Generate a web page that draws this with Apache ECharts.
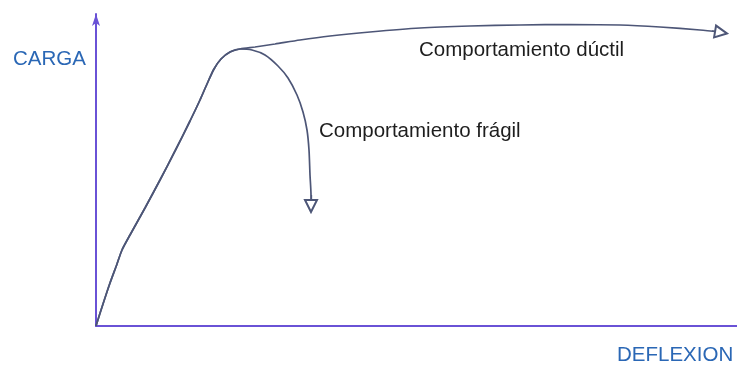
<!DOCTYPE html>
<html>
<head>
<meta charset="utf-8">
<script src="https://cdn.jsdelivr.net/npm/echarts@6/dist/echarts.min.js"></script>
<style>
  html, body { margin: 0; padding: 0; background: #fff; }
  #chart { width: 737px; height: 369px; }
</style>
</head>
<body>
<div id="chart"></div>
<script>
// Schematic load–deflection curves (arbitrary units)
const rise = [[0, 0], [7, 22], [14, 43], [21, 62], [26, 76], [34, 91], [49, 118], [64, 146],
  [79, 175], [94, 205], [104, 226], [111, 242], [118, 257], [125, 267], [134, 274], [144, 277]];
const ductileTail = [[159, 279], [179, 282], [204, 286], [234, 290], [274, 294], [324, 298],
  [374, 300], [424, 301], [474, 301.5], [524, 301], [564, 299], [604, 296], [624, 294]];
const fragileTail = [[156, 276], [169, 271], [182, 260], [192, 248], [201, 231], [207, 214],
  [211, 196], [213, 176], [214, 151], [215, 131], [215, 121]];
const ductileArrow = [[616, 295], [625, 293.5]];
const fragileArrow = [[215, 131], [215, 120]];

const ductile = rise.concat(ductileTail);
const fragile = rise.concat(fragileTail);

const curveColor = '#4d5677';
const axisColor = '#6a52d6';
const labelFont = '"Liberation Sans", Arial, sans-serif';

const chart = echarts.init(document.getElementById('chart'));
chart.setOption({
  animation: false,
  grid: { left: 96, right: 0, top: 14, bottom: 43 },
  xAxis: {
    type: 'value', min: 0, max: 641,
    axisLine: { show: true, onZero: false, lineStyle: { color: axisColor, width: 2 } },
    axisTick: { show: false }, axisLabel: { show: false }, splitLine: { show: false }
  },
  yAxis: {
    type: 'value', min: 0, max: 312,
    axisLine: {
      show: true, onZero: false,
      symbol: ['none', 'arrow'], symbolSize: [6, 12],
      lineStyle: { color: axisColor, width: 2 }
    },
    axisTick: { show: false }, axisLabel: { show: false }, splitLine: { show: false }
  },
  series: [
    {
      type: 'line', data: ductile, smooth: 0.25, symbol: 'none',
      lineStyle: { color: curveColor, width: 1.7 }, z: 3
    },
    {
      type: 'line', data: fragile, smooth: 0.25, symbol: 'none',
      lineStyle: { color: curveColor, width: 1.7 }, z: 3
    },
    {
      type: 'lines', coordinateSystem: 'cartesian2d', polyline: false, z: 5,
      symbol: ['none', 'emptyTriangle'], symbolSize: [7, 12],
      lineStyle: { color: curveColor, width: 1.3, opacity: 1 },
      data: [{ coords: ductileArrow }, { coords: fragileArrow }]
    }
  ],
  graphic: [
    { type: 'text', left: 13, top: 49, style: { text: 'CARGA', fill: '#2a67b5', font: '20.5px ' + labelFont } },
    { type: 'text', left: 617, top: 345, style: { text: 'DEFLEXION', fill: '#2a67b5', font: '20.5px ' + labelFont } },
    { type: 'text', left: 419, top: 40, style: { text: 'Comportamiento dúctil', fill: '#1e1e1e', font: '20.5px ' + labelFont } },
    { type: 'text', left: 319, top: 121, style: { text: 'Comportamiento frágil', fill: '#1e1e1e', font: '20.5px ' + labelFont } }
  ]
});
</script>
</body>
</html>
